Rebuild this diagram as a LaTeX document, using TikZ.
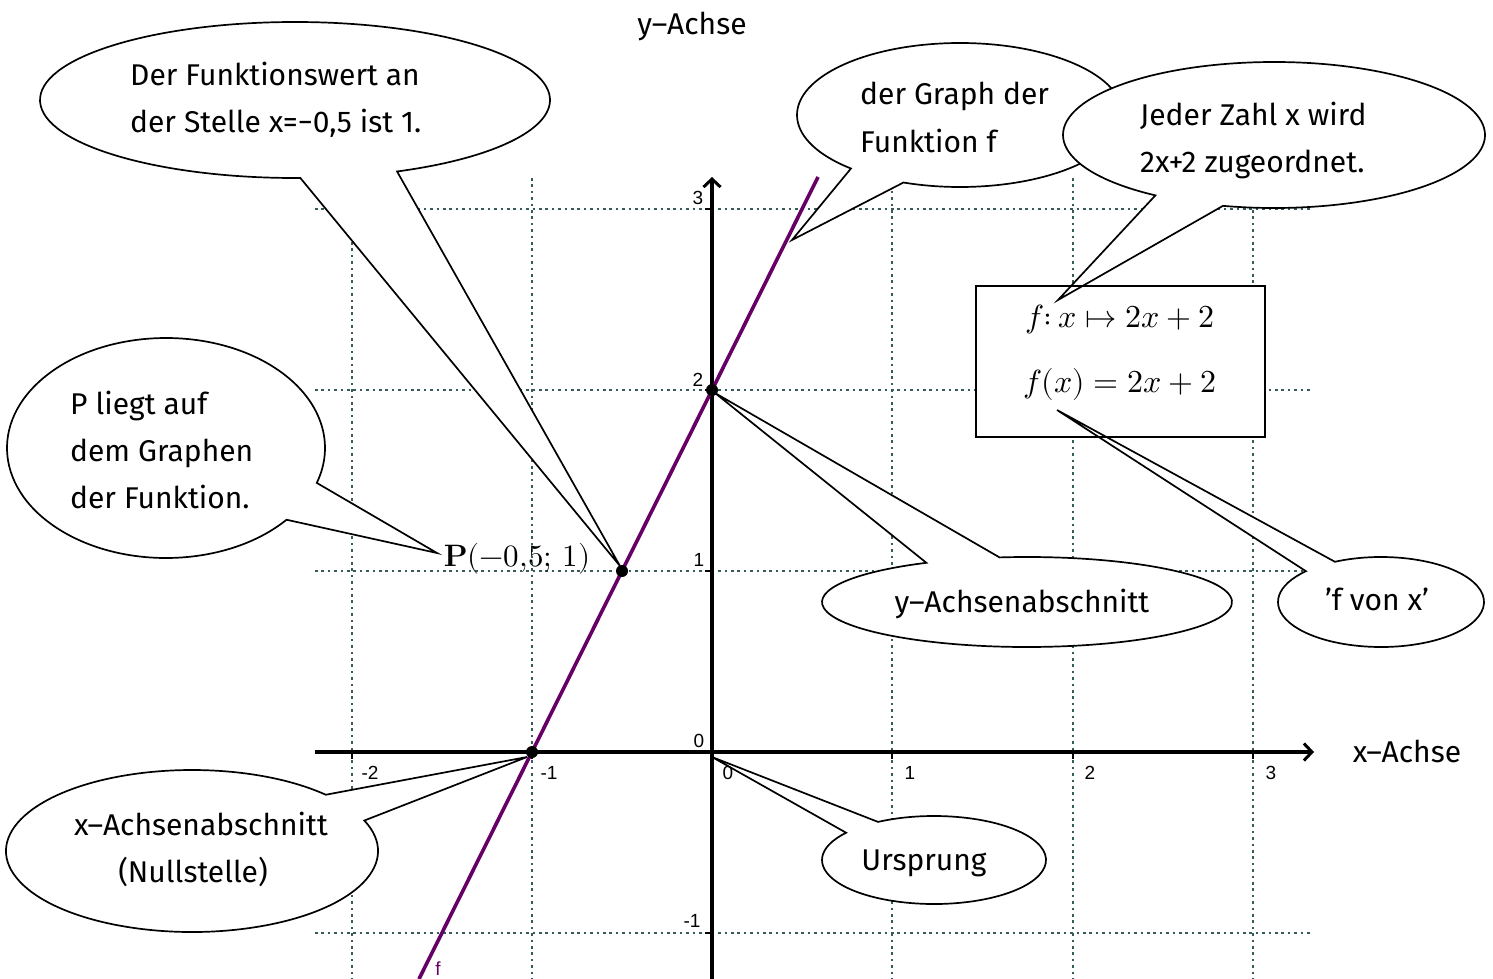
\documentclass[tikz,border=0pt]{standalone}
\usepackage{fontspec}
\usepackage{unicode-math}
\setmathfont{Latin Modern Math}
\newfontfamily\hand{Fira Sans}
\newfontfamily\arialf{Liberation Sans}
\usetikzlibrary{arrows.meta}
\definecolor{gridc}{RGB}{55,90,90}
\definecolor{fcol}{RGB}{102,0,102}
\newcommand\mybubble[8]{%
  \draw[bubble] (#1,#2) ++(#5:#3 and #4) arc[start angle=#5, end angle=#6, x radius=#3, y radius=#4] -- (#7,#8) -- cycle;}
\begin{document}
\begin{tikzpicture}[x=1pt,y=-1pt,
  gridline/.style={gridc, line width=2.6pt, dash pattern=on 2.6pt off 3.8pt},
  axisline/.style={line width=3.2pt, -{Straight Barb[length=8pt,width=17pt,line width=3pt]}},
  tickline/.style={line width=2.6pt},
  bubble/.style={draw=black, fill=white, line width=1.7pt, line join=miter},
  hw/.style={font=\hand\fontsize{30}{34}\selectfont, inner sep=0pt},
  ticklab/.style={font=\arialf\fontsize{19}{22}\selectfont, inner sep=0pt},
  mathlab/.style={font=\fontsize{32}{36}\selectfont, inner sep=0pt, anchor=base},
  plab/.style={font=\fontsize{31}{36}\selectfont, inner sep=0pt, anchor=base},
  dot/.style={circle, fill=black, inner sep=0pt, minimum size=12pt}
]
\useasboundingbox (0,0) rectangle (1493,979);
% grid
\foreach \gx in {352,532,892,1073,1253} \draw[gridline] (\gx,178) -- (\gx,979);
\foreach \gy in {209,390,571,933} \draw[gridline] (315,\gy) -- (1312,\gy);
% box background
\fill[white] (976,286) rectangle (1265,437);
% speech bubbles
\mybubble{295}{100}{255}{78}{88.8}{426.4}{620}{566}
\mybubble{166}{448}{159}{110}{40.7}{378.5}{437}{553}
\mybubble{960}{115}{163}{72}{132}{470.3}{792}{240}
\mybubble{1274}{135}{211}{73}{124.2}{464}{1058}{300}
\mybubble{1027}{602}{205}{45}{262.3}{600.6}{715}{393}
\mybubble{1381}{602}{103}{45}{243.4}{583.2}{1057}{410}
\mybubble{192}{851}{186}{81}{337.9}{676}{527}{757}
\mybubble{934}{860}{112}{44}{240}{578.3}{712}{757}
% box outline
\node[draw, line width=1.7pt, minimum width=289pt, minimum height=151pt, inner sep=0pt] (box) at (1120.5,361.5) {};
% axes
\coordinate (xs) at (315,752);
\coordinate (xe) at (1314,752);
\coordinate (ys) at (712,979);
\coordinate (ye) at (712,177);
\draw[axisline] (xs) -- (xe);
\draw[axisline] (ys) -- (ye);
\foreach \gx in {352,532,892,1073,1253} \draw[tickline] (\gx,752) -- (\gx,759);
\foreach \gy in {209,390,571,933} \draw[tickline] (705,\gy) -- (712,\gy);
% tick labels
\node[ticklab] (lxm2) at (370,773) {-2};
\node[ticklab] (lxm1) at (549,773) {-1};
\node[ticklab] (lx0) at (728,773) {0};
\node[ticklab] (lx1) at (910,773) {1};
\node[ticklab] (lx2) at (1090,773) {2};
\node[ticklab] (lx3) at (1271,773) {3};
\node[ticklab] (ly3) at (698,198) {3};
\node[ticklab] (ly2) at (698,380) {2};
\node[ticklab] (ly1) at (699,560) {1};
\node[ticklab] (ly0) at (699,741) {0};
\node[ticklab] (lym1) at (692,921) {-1};
% function graph
\coordinate (fbot) at (419,979);
\coordinate (ftop) at (818,177);
\draw[fcol, line width=3.6pt] (fbot) -- (ftop);
\node[ticklab, text=fcol, anchor=base] (flab) at (438,975) {f};
% points
\node[dot] (N) at (532,752) {};
\node[dot] (Y) at (712,390) {};
\node[dot] (P) at (622,571) {};
\node[plab] (Plab) at (517,566) {$\mathbf{P}(-0{,}5;\,1)$};
% box text
\node[mathlab] (eq1) at (1120,327) {$f{:}\,x\mapsto 2x+2$};
\node[mathlab] (eq2) at (1120,392) {$f(x)=2x+2$};
% axis titles
\node[hw, anchor=base] (yt) at (692,35) {y–Achse};
\node[hw, anchor=base] (xt) at (1407,762) {x–Achse};
% bubble texts
\node[hw, anchor=base west] (t1a) at (130,86) {Der Funktionswert an};
\node[hw, anchor=base west] (t1b) at (130,132) {der Stelle x=−0,5 ist 1.};
\node[hw, anchor=base west] (t2a) at (860,105) {der Graph der};
\node[hw, anchor=base west] (t2b) at (860,152) {Funktion f};
\node[hw, anchor=base west] (t3a) at (1140,126) {Jeder Zahl x wird};
\node[hw, anchor=base west] (t3b) at (1140,172) {2x+2 zugeordnet.};
\node[hw, anchor=base west] (t4a) at (70,414) {P liegt auf};
\node[hw, anchor=base west] (t4b) at (70,461) {dem Graphen};
\node[hw, anchor=base west] (t4c) at (70,508) {der Funktion.};
\node[hw, anchor=base] (t6) at (1022,612) {y–Achsenabschnitt};
\node[hw, anchor=base] (t7) at (1377,610) {’f von x’};
\node[hw, anchor=base] (t8a) at (201,835) {x–Achsenabschnitt};
\node[hw, anchor=base] (t8b) at (193,882) {(Nullstelle)};
\node[hw, anchor=base] (t9) at (924,870) {Ursprung};
\end{tikzpicture}
\end{document}
